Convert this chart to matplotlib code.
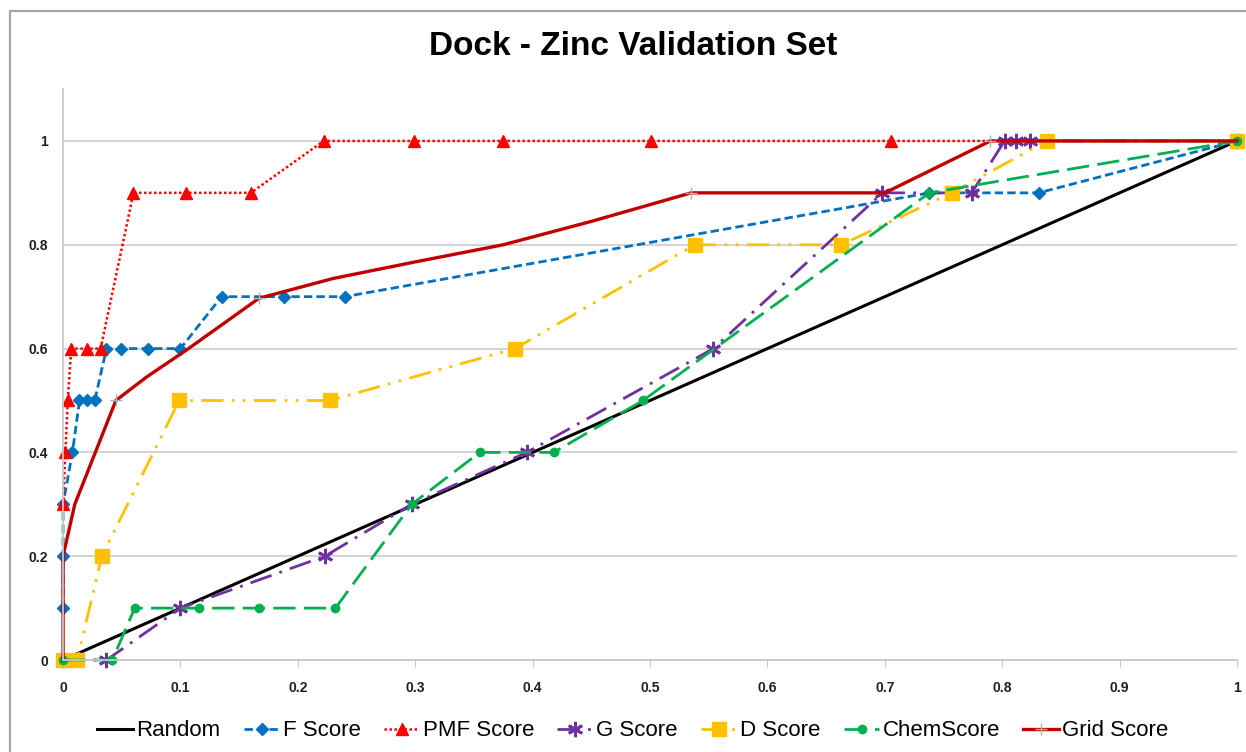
import matplotlib
matplotlib.use("Agg")
import matplotlib.pyplot as plt
from matplotlib.patches import Rectangle

# ── data ─────────────────────────────────────────────────────────────────────
random_x = [0.0, 1.0]
random_y = [0.0, 1.0]

f_x = [0, 0, 0, 0.008, 0.014, 0.02, 0.027, 0.037, 0.049, 0.072, 0.1,
       0.135, 0.188, 0.24, 0.738, 0.831, 1.0]
f_y = [0.1, 0.2, 0.3, 0.4, 0.5, 0.5, 0.5, 0.6, 0.6, 0.6, 0.6,
       0.7, 0.7, 0.7, 0.9, 0.9, 1.0]

pmf_x = [0, 0.002, 0.004, 0.007, 0.02, 0.032, 0.06, 0.105, 0.16, 0.222,
         0.299, 0.375, 0.501, 0.705, 1.0]
pmf_y = [0.3, 0.4, 0.5, 0.6, 0.6, 0.6, 0.9, 0.9, 0.9, 1.0,
         1.0, 1.0, 1.0, 1.0, 1.0]

g_x = [0, 0.037, 0.1, 0.223, 0.297, 0.395, 0.554, 0.698, 0.774, 0.802,
       0.812, 0.824, 1.0]
g_y = [0, 0, 0.1, 0.2, 0.3, 0.4, 0.6, 0.9, 0.9, 1.0, 1.0, 1.0, 1.0]

d_x = [0, 0.012, 0.033, 0.099, 0.227, 0.385, 0.538, 0.663, 0.757, 0.838, 1.0]
d_y = [0, 0, 0.2, 0.5, 0.5, 0.6, 0.8, 0.8, 0.9, 1.0, 1.0]

chem_x = [0, 0.042, 0.061, 0.116, 0.167, 0.232, 0.297, 0.355, 0.418,
          0.494, 0.738, 1.0]
chem_y = [0, 0, 0.1, 0.1, 0.1, 0.1, 0.3, 0.4, 0.4, 0.5, 0.9, 1.0]

grid_x = [0, 0, 0.01, 0.045, 0.071, 0.105, 0.167, 0.23, 0.3, 0.375,
          0.45, 0.535, 0.7, 0.79, 1.0]
grid_y = [0, 0.2, 0.3, 0.5, 0.545, 0.597, 0.697, 0.735, 0.767, 0.8,
          0.845, 0.9, 0.9, 1.0, 1.0]

x_ticks = [0, 0.1, 0.2, 0.3, 0.4, 0.5, 0.6, 0.7, 0.8, 0.9, 1]
x_labels = ["0", "0.1", "0.2", "0.3", "0.4", "0.5", "0.6", "0.7", "0.8", "0.9", "1"]
y_ticks = [0, 0.2, 0.4, 0.6, 0.8, 1]
y_labels = ["0", "0.2", "0.4", "0.6", "0.8", "1"]

plt.rcParams["font.family"] = ["Liberation Sans", "DejaVu Sans"]

fig = plt.figure(figsize=(12.46, 7.52), dpi=100)
ax = fig.add_axes([0.0506, 0.1223, 0.9422, 0.7593])

# chart frame (Excel chart area border)
fig.patches.append(Rectangle((10 / 1246, -0.2), 2.0, 1.2 - 11 / 752,
                             transform=fig.transFigure, fill=False,
                             edgecolor="#a6a6a6", linewidth=1.6))

common = dict(clip_on=False)
ax.plot(random_x, random_y, color="black", lw=2.2, label="Random", **common)
ax.plot(f_x, f_y, color="#0070C0", lw=2, ls=(0, (3, 1.5)), marker="D",
        ms=6, label="F Score", **common)
ax.plot(pmf_x, pmf_y, color="#FF0000", lw=1.8, ls=(0, (1, 1)), marker="^",
        ms=9, label="PMF Score", **common)
ax.plot(g_x, g_y, color="#7030A0", lw=2, ls=(0, (8, 3, 1, 3)), marker=(6, 2, 0),
        ms=11, mew=2, label="G Score", **common)
ax.plot(d_x, d_y, color="#FFC000", lw=2, ls=(0, (8, 3, 1, 3, 1, 3)), marker="s",
        ms=10, label="D Score", **common)
ax.plot(chem_x, chem_y, color="#00B050", lw=2, ls=(0, (8, 3)), marker="o",
        ms=6, label="ChemScore", **common)
ax.plot(grid_x, grid_y, color="#C00000", lw=2.4, marker="+", ms=9, mew=1,
        mec="#b0b0b0", markevery=[3, 6, 11, 13], label="Grid Score", **common)

ax.set_xlim(0, 1)
ax.set_ylim(0, 1.1)
ax.set_xticks(x_ticks)
ax.set_xticklabels(x_labels)
ax.set_yticks(y_ticks)
ax.set_yticklabels(y_labels)
for lab in ax.get_xticklabels() + ax.get_yticklabels():
    lab.set_fontsize(10)
    lab.set_fontweight("bold")
    lab.set_color("#202020")
ax.tick_params(axis="x", length=5, color="#c8c8c8", pad=10)
ax.tick_params(axis="y", length=0, pad=11)
ax.grid(axis="y", color="#d0d0d0", lw=1.3)
ax.set_axisbelow(True)
for side in ["top", "right"]:
    ax.spines[side].set_visible(False)
for side in ["left", "bottom"]:
    ax.spines[side].set_color("#c8c8c8")
    ax.spines[side].set_linewidth(1.3)

fig.text(0.508, 0.938, "Dock - Zinc Validation Set", ha="center", va="center",
         fontsize=24, fontweight="bold", color="black")

fig.legend(loc="center", bbox_to_anchor=(0.508, 0.028), ncol=7, frameon=False,
           fontsize=16, handlelength=1.6, columnspacing=1.05, handletextpad=0.15,
           borderaxespad=0)

fig.savefig("out.png", dpi=100)
